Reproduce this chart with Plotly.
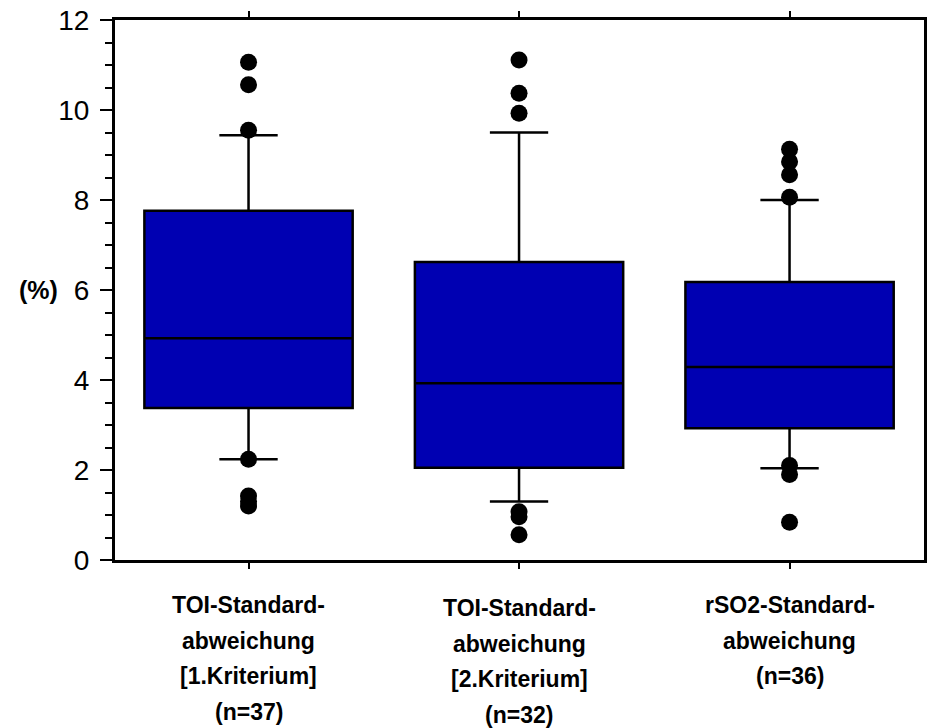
import plotly.graph_objects as go

categories = ["A", "B", "C"]
label_lines = [
    ["TOI-Standard-", "abweichung", "[1.Kriterium]", "(n=37)"],
    ["TOI-Standard-", "abweichung", "[2.Kriterium]", "(n=32)"],
    ["rSO2-Standard-", "abweichung", "(n=36)"],
]
q1 = [3.38, 2.05, 2.93]
median = [4.93, 3.93, 4.29]
q3 = [7.76, 6.62, 6.18]
lowerfence = [2.24, 1.30, 2.04]
upperfence = [9.44, 9.50, 8.00]
outliers = [
    [11.06, 10.56, 9.55, 2.24, 1.42, 1.30, 1.20],
    [11.11, 10.37, 9.93, 1.07, 0.96, 0.56],
    [9.13, 8.85, 8.56, 8.06, 2.10, 1.90, 0.84],
]
y_ticks = [0, 2, 4, 6, 8, 10, 12]

FONT = "Liberation Sans, Arial, sans-serif"
NARROW = "Liberation Sans Narrow, Arial Narrow, Liberation Sans, Arial, sans-serif"

fig = go.Figure()
fig.add_trace(go.Box(
    x=categories, q1=q1, median=median, q3=q3,
    lowerfence=lowerfence, upperfence=upperfence,
    fillcolor="#0000B2", line=dict(color="black", width=2.5),
    whiskerwidth=0.28, width=0.77, boxpoints=False, hoverinfo="skip",
))
for cat, pts in zip(categories, outliers):
    fig.add_trace(go.Scatter(
        x=[cat] * len(pts), y=pts, mode="markers",
        marker=dict(color="black", size=17), hoverinfo="skip",
    ))

annotations = []
for cat, lines in zip(categories, label_lines):
    off = 3 if cat == "B" else 0
    for i, t in enumerate(lines):
        annotations.append(dict(
            x=cat, y=0, xref="x", yref="paper", yanchor="top",
            yshift=-(30 + off + i * 35.5), text=f"<b>{t}</b>", showarrow=False,
            font=dict(family=NARROW, size=23, color="black"),
        ))
annotations.append(dict(
    x=0, y=6, xref="paper", yref="y", xanchor="right", xshift=-55,
    text="<b>(%)</b>", showarrow=False,
    font=dict(family=FONT, size=25, color="black"),
))

fig.update_layout(
    width=927, height=728,
    margin=dict(l=115, r=0, t=20, b=168),
    plot_bgcolor="white", paper_bgcolor="white",
    showlegend=False,
    annotations=annotations,
    font=dict(family=FONT, color="black"),
)
fig.update_xaxes(
    categoryorder="array", categoryarray=categories,
    range=[-0.4936, 2.497], showticklabels=False,
    showline=True, linecolor="black", linewidth=3, mirror="ticks",
    ticks="outside", ticklen=6, tickwidth=2, tickcolor="black",
    showgrid=False, zeroline=False,
)
fig.update_yaxes(
    range=[0, 12], tickvals=y_ticks, ticktext=[str(v) for v in y_ticks],
    tickfont=dict(family=FONT, size=28, color="black"),
    showline=True, linecolor="black", linewidth=3, mirror=True,
    ticks="outside", ticklen=12, tickwidth=2, tickcolor="black",
    ticklabelstandoff=5,
    minor=dict(dtick=0.5, ticks="outside", ticklen=7, tickwidth=2, tickcolor="black", showgrid=False),
    showgrid=False, zeroline=False,
)

fig.write_html("out.html")
